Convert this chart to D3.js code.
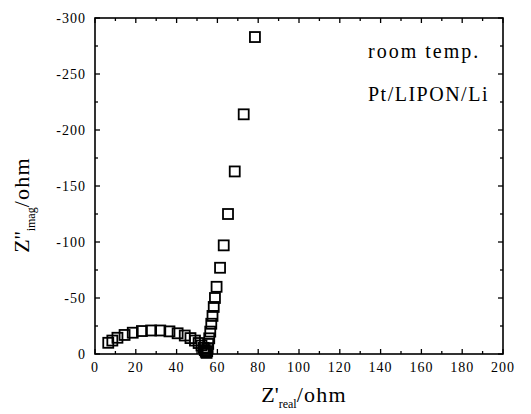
<!DOCTYPE html>
<html><head><meta charset="utf-8">
<script src="https://cdn.jsdelivr.net/npm/d3@7"></script>
<style>body{margin:0;background:#fff}svg{display:block}</style>
</head><body>
<script>
// Nyquist data: Z'real (ohm), -Z''imag (ohm)
const zReal = [6.5, 8.5, 11, 14.5, 18.5, 23, 27.5, 32, 36.5, 40.5, 44, 46.8, 49, 50.8, 52.2, 53.2, 53.8, 54.3, 54.7,
               55.0, 55.2, 55.5, 56.0, 56.5, 57.0, 57.6, 58.2, 58.8, 59.6, 61.3, 63.1, 65.2, 68.5, 72.9, 78.4];
const zImag = [10, 12, 14.5, 17, 19, 20.5, 21, 21, 20.2, 18.5, 16.5, 14.2, 12, 9.8, 7.6, 5.5, 3.5, 2, 1,
               2.5, 5, 9, 14, 20, 27, 34, 42, 50, 60, 77, 97, 125, 163, 214, 283];
const xTicks = [0, 20, 40, 60, 80, 100, 120, 140, 160, 180, 200];
const yTicks = [0, 50, 100, 150, 200, 250, 300];
const labels = ["room temp.", "Pt/LIPON/Li"];

const W = 531, H = 414;
const m = {l: 95, r: 28, t: 18, b: 60};
const svg = d3.select("body").append("svg").attr("width", W).attr("height", H);
const x = d3.scaleLinear().domain([0, 200]).range([m.l, W - m.r]);
const y = d3.scaleLinear().domain([0, 300]).range([H - m.b, m.t]);
const font = "'Liberation Serif', 'Times New Roman', serif";

const g = svg.append("g");
g.append("rect").attr("x", x(0)).attr("y", y(300)).attr("width", x(200) - x(0)).attr("height", y(0) - y(300))
  .attr("fill", "none").attr("stroke", "#000").attr("stroke-width", 1.6);

const xMinor = d3.range(0, 201, 10), yMinor = d3.range(0, 301, 25);
function tk(maj) { return maj ? 5 : 3; }
xMinor.forEach(v => {
  const L = tk(v % 20 === 0);
  g.append("line").attr("x1", x(v)).attr("x2", x(v)).attr("y1", y(0)).attr("y2", y(0) - L).attr("stroke", "#000").attr("stroke-width", 1.3);
  g.append("line").attr("x1", x(v)).attr("x2", x(v)).attr("y1", y(300)).attr("y2", y(300) + L).attr("stroke", "#000").attr("stroke-width", 1.3);
});
yMinor.forEach(v => {
  const L = tk(v % 50 === 0);
  g.append("line").attr("y1", y(v)).attr("y2", y(v)).attr("x1", x(0)).attr("x2", x(0) + L).attr("stroke", "#000").attr("stroke-width", 1.3);
  g.append("line").attr("y1", y(v)).attr("y2", y(v)).attr("x1", x(200)).attr("x2", x(200) - L).attr("stroke", "#000").attr("stroke-width", 1.3);
});

g.selectAll(".xl").data(xTicks).enter().append("text")
  .attr("x", d => x(d)).attr("y", y(0) + 18).attr("text-anchor", "middle")
  .attr("font-family", font).attr("font-size", 14).attr("letter-spacing", 1).text(d => d);
g.selectAll(".yl").data(yTicks).enter().append("text")
  .attr("x", x(0) - 9).attr("y", d => y(d) + 5).attr("text-anchor", "end")
  .attr("font-family", font).attr("font-size", 14).attr("letter-spacing", 1).text(d => d === 0 ? "0" : "-" + d);

const xt = svg.append("text").attr("x", 304).attr("y", 402).attr("text-anchor", "middle")
  .attr("font-family", font).attr("font-size", 22);
xt.append("tspan").text("Z'");
xt.append("tspan").attr("font-size", 12).attr("dy", 6).text("real");
xt.append("tspan").attr("dy", -6).attr("letter-spacing", 1.2).text("/ohm");

const yt = svg.append("text").attr("transform", "translate(29,205) rotate(-90)").attr("text-anchor", "middle")
  .attr("font-family", font).attr("font-size", 22);
yt.append("tspan").text("Z''");
yt.append("tspan").attr("font-size", 12).attr("dy", 6).text("imag");
yt.append("tspan").attr("dy", -6).attr("letter-spacing", 1.2).text("/ohm");

svg.append("text").attr("x", 368).attr("y", 58).attr("font-family", font).attr("font-size", 20).attr("letter-spacing", 2).text(labels[0]);
svg.append("text").attr("x", 368).attr("y", 101).attr("font-family", font).attr("font-size", 20).attr("letter-spacing", 1.5).text(labels[1]);

const s = 10;
svg.append("g").selectAll("rect").data(zReal.map((d, i) => [d, zImag[i]])).enter().append("rect")
  .attr("x", d => x(d[0]) - s / 2).attr("y", d => y(d[1]) - s / 2).attr("width", s).attr("height", s)
  .attr("fill", "none").attr("stroke", "#000").attr("stroke-width", 1.8);
</script>
</body></html>
